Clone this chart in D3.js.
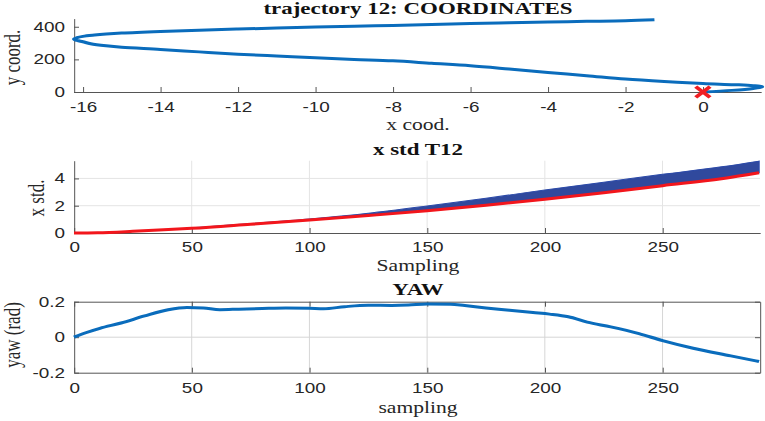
<!DOCTYPE html>
<html>
<head>
<meta charset="utf-8">
<script src="https://cdn.jsdelivr.net/npm/d3@7"></script>
<style>
  body { margin: 0; background: #fff; }
  svg { display: block; }
</style>
</head>
<body>
<div id="chart"></div>
<script>
// trajectory 12 path (x, y)
const trajX = [0, 0.75, 1.3, 1.53, 1.3, 0.8, 0, -1, -2, -3, -4, -5, -6, -7, -8, -9, -10, -11, -12, -13, -14, -15, -15.4, -15.8, -16, -16.15, -16.23,
               -16.15, -16, -15.7, -15.4, -15, -14, -13, -12, -11, -10, -9, -8, -7, -6, -5, -4, -3, -2, -1.25];
const trajY = [0, 10, 22, 32, 39, 45, 52, 64, 79, 100, 120, 141, 161, 176, 191, 200, 210, 221, 232, 246, 261, 274, 283, 296, 308, 316, 324,
               333, 341, 349, 355, 361, 371, 379, 386, 392, 398, 403, 408, 414, 420, 425, 429, 433, 437, 443];
const startX = [0];
const startY = [0];
const trajXTicks = [-16, -14, -12, -10, -8, -6, -4, -2, 0];
const trajXTickLabels = ['-16', '-14', '-12', '-10', '-8', '-6', '-4', '-2', '0'];
const trajYTicks = [0, 200, 400];
const trajYTickLabels = ['0', '200', '400'];

// x std T12
const stdSamples = [0, 10, 25, 50, 75, 100, 125, 150, 175, 200, 225, 250, 275, 291];
const stdLower = [0, 0.02, 0.12, 0.34, 0.64, 0.95, 1.28, 1.63, 2.03, 2.47, 2.95, 3.47, 3.98, 4.42];
const stdUpper = [0, 0.02, 0.13, 0.37, 0.69, 1.03, 1.45, 1.98, 2.55, 3.15, 3.72, 4.3, 4.85, 5.27];
const stdTicks = [0, 2, 4];
const stdTickLabels = ['0', '2', '4'];

// YAW
const yawSamples = [0, 5, 11, 20, 30, 40, 48, 55, 62, 70, 80, 90, 100, 106, 115, 125, 135, 142, 150, 160, 166, 175, 185, 195, 202, 210, 218, 228, 240, 250, 263, 279, 291];
const yawValues = [0, 0.025, 0.05, 0.08, 0.12, 0.155, 0.168, 0.165, 0.155, 0.158, 0.162, 0.165, 0.163, 0.16, 0.172, 0.18, 0.179, 0.181, 0.187, 0.186, 0.178, 0.165, 0.152, 0.139, 0.13, 0.115, 0.085, 0.058, 0.02, -0.019, -0.062, -0.105, -0.137];
const yawTicks = [-0.2, 0, 0.2];
const yawTickLabels = ['-0.2', '0', '0.2'];

const sampleTicks = [0, 50, 100, 150, 200, 250];
const sampleTickLabels = ['0', '50', '100', '150', '200', '250'];

// the figure is stretched sideways, so draw in a narrower viewBox
const K = 1.35;
const W = 765, H = 421;
const px = v => v / K;

const svg = d3.select('#chart')
    .append('svg')
    .attr('width', W)
    .attr('height', H)
    .attr('viewBox', [0, 0, W / K, H])
    .attr('preserveAspectRatio', 'none');

const blue = '#0a6cbc';
const axisColor = '#555';
const tickFont = 'Liberation Sans, Arial, sans-serif';
const serif = 'Liberation Serif, Times New Roman, serif';

function styleAxis(g) {
    g.attr('font-size', 14).attr('font-family', tickFont);
    g.selectAll('.domain, .tick line')
        .attr('stroke', axisColor)
        .attr('vector-effect', 'non-scaling-stroke');
    g.selectAll('.tick text').attr('fill', '#262626');
}

function title(text, y) {
    svg.append('text')
        .attr('x', px(418)).attr('y', y)
        .attr('text-anchor', 'middle')
        .attr('font-family', serif)
        .attr('font-weight', 'bold')
        .attr('font-size', 17)
        .attr('fill', '#111')
        .text(text);
}

function xLabel(text, y) {
    svg.append('text')
        .attr('x', px(418)).attr('y', y)
        .attr('text-anchor', 'middle')
        .attr('font-family', serif)
        .attr('font-size', 16)
        .attr('fill', '#262626')
        .text(text);
}

function yLabel(text, x, y) {
    svg.append('text')
        .attr('transform', `translate(${px(x)},${y}) rotate(-90)`)
        .attr('text-anchor', 'middle')
        .attr('font-family', serif)
        .attr('font-size', 17)
        .attr('fill', '#262626')
        .text(text);
}

function grid(x, y, xs, ys, color) {
    const g = svg.append('g').attr('stroke', color);
    g.selectAll('line.gx')
        .data(xs)
        .join('line')
        .attr('x1', d => x(d)).attr('x2', d => x(d))
        .attr('y1', y.range()[0]).attr('y2', y.range()[1])
        .attr('vector-effect', 'non-scaling-stroke');
    g.selectAll('line.gy')
        .data(ys)
        .join('line')
        .attr('y1', d => y(d)).attr('y2', d => y(d))
        .attr('x1', x.range()[0]).attr('x2', x.range()[1])
        .attr('vector-effect', 'non-scaling-stroke');
}

// ---------- panel 1: coordinates ----------
{
    const x = d3.scaleLinear().domain([-16.23, 1.5]).range([px(74), px(761)]);
    const y = d3.scaleLinear().domain([0, 450]).range([92, 18.6]);

    svg.append('g')
        .attr('transform', `translate(0,${y(0)})`)
        .call(d3.axisBottom(x).tickValues(trajXTicks).tickFormat((d, i) => trajXTickLabels[i])
            .tickSizeInner(-5).tickSizeOuter(0).tickPadding(10))
        .call(styleAxis);

    svg.append('g')
        .attr('transform', `translate(${x.range()[0]},0)`)
        .call(d3.axisLeft(y).tickValues(trajYTicks).tickFormat((d, i) => trajYTickLabels[i])
            .tickSizeInner(-px(5)).tickSizeOuter(0).tickPadding(px(9)))
        .call(styleAxis);

    const line = d3.line()
        .x((d, i) => x(trajX[i]))
        .y((d, i) => y(trajY[i]))
        .curve(d3.curveCatmullRom);

    svg.append('path')
        .datum(trajX)
        .attr('d', line)
        .attr('fill', 'none')
        .attr('stroke', blue)
        .attr('stroke-width', 3)
        .attr('stroke-linejoin', 'round');

    svg.selectAll('path.start')
        .data(startX)
        .join('path')
        .attr('class', 'start')
        .attr('transform', (d, i) => `translate(${x(d)},${y(startY[i])})`)
        .attr('d', d3.symbol().type(d3.symbolX).size(75))
        .attr('stroke', '#f01e23')
        .attr('stroke-width', 3.2);

    title('trajectory 12: COORDINATES', 14);
    xLabel('x cood.', 130);
    yLabel('y coord.', 20, 57.5);
}

// ---------- panel 2: x std ----------
{
    const x = d3.scaleLinear().domain([0, 291.4]).range([px(74), px(760)]);
    const y = d3.scaleLinear().domain([0, 5.3]).range([233, 160.7]);

    grid(x, y, sampleTicks.slice(1), stdTicks.slice(1), '#e4e4e4');

    svg.append('g')
        .attr('transform', `translate(0,${y(0)})`)
        .call(d3.axisBottom(x).tickValues(sampleTicks).tickFormat((d, i) => sampleTickLabels[i])
            .tickSizeInner(-5).tickSizeOuter(0).tickPadding(9))
        .call(styleAxis);

    svg.append('g')
        .attr('transform', `translate(${x.range()[0]},0)`)
        .call(d3.axisLeft(y).tickValues(stdTicks).tickFormat((d, i) => stdTickLabels[i])
            .tickSizeInner(-px(5)).tickSizeOuter(0).tickPadding(px(9)))
        .call(styleAxis);

    const area = d3.area()
        .x((d, i) => x(stdSamples[i]))
        .y0((d, i) => y(stdLower[i]))
        .y1((d, i) => y(stdUpper[i]))
        .curve(d3.curveMonotoneX);

    svg.append('path')
        .datum(stdSamples)
        .attr('d', area)
        .attr('fill', '#30499d')
        .attr('stroke', '#2c4aa8')
        .attr('stroke-width', 1);

    const lower = d3.line()
        .x((d, i) => x(stdSamples[i]))
        .y((d, i) => y(stdLower[i]))
        .curve(d3.curveMonotoneX);

    svg.append('path')
        .datum(stdSamples)
        .attr('d', lower)
        .attr('fill', 'none')
        .attr('stroke', '#f2161c')
        .attr('stroke-width', 3);

    title('x std T12', 155);
    xLabel('Sampling', 271);
    yLabel('x std.', 44, 198);
}

// ---------- panel 3: yaw ----------
{
    const x = d3.scaleLinear().domain([0, 291.4]).range([px(74), px(760)]);
    const y = d3.scaleLinear().domain([-0.2, 0.2]).range([372.7, 301.7]);

    grid(x, y, sampleTicks.slice(1), [0], '#d6d6d6');

    svg.append('g')
        .attr('transform', `translate(0,${y(-0.2)})`)
        .call(d3.axisBottom(x).tickValues(sampleTicks).tickFormat((d, i) => sampleTickLabels[i])
            .tickSizeInner(-5).tickSizeOuter(0).tickPadding(10))
        .call(styleAxis);

    svg.append('g')
        .attr('transform', `translate(0,${y(0.2)})`)
        .call(d3.axisTop(x).tickValues(sampleTicks).tickFormat('')
            .tickSizeInner(-5).tickSizeOuter(0))
        .call(styleAxis);

    svg.append('g')
        .attr('transform', `translate(${x.range()[0]},0)`)
        .call(d3.axisLeft(y).tickValues(yawTicks).tickFormat((d, i) => yawTickLabels[i])
            .tickSizeInner(-px(5)).tickSizeOuter(0).tickPadding(px(9)))
        .call(styleAxis);

    svg.append('g')
        .attr('transform', `translate(${x.range()[1]},0)`)
        .call(d3.axisRight(y).tickValues(yawTicks).tickFormat('')
            .tickSizeInner(-px(5)).tickSizeOuter(0))
        .call(styleAxis);

    const line = d3.line()
        .x((d, i) => x(yawSamples[i]))
        .y((d, i) => y(yawValues[i]))
        .curve(d3.curveMonotoneX);

    svg.append('path')
        .datum(yawSamples)
        .attr('d', line)
        .attr('fill', 'none')
        .attr('stroke', blue)
        .attr('stroke-width', 3);

    title('YAW', 295);
    xLabel('sampling', 413);
    yLabel('yaw (rad)', 20, 335);
}
</script>
</body>
</html>
